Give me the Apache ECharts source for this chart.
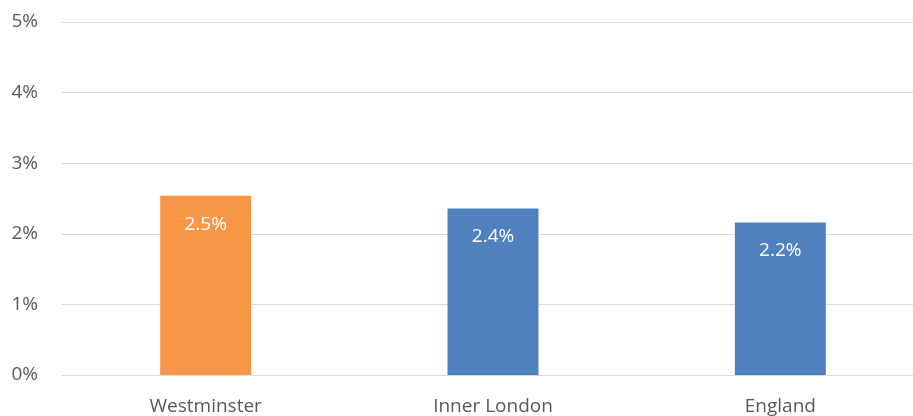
<!DOCTYPE html>
<html>
<head>
<meta charset="utf-8">
<script src="https://cdn.jsdelivr.net/npm/echarts@6/dist/echarts.min.js"></script>
<style>
  html, body { margin: 0; padding: 0; background: #fff; overflow: hidden; }
  /* 图表比窗口略宽，右侧被裁掉，和原图一致 */
  #chart { width: 924px; height: 416px; }
</style>
</head>
<body>
<div id="chart"></div>
<script>
// 数据
const categories = ['Westminster', 'Inner London', 'England'];
const values = [2.54, 2.36, 2.16]; // 百分比
const barColors = ['#F79646', '#4F81BD', '#4F81BD'];
const yTicks = [0, 1, 2, 3, 4, 5];

const chart = echarts.init(document.getElementById('chart'));
const option = {
  animation: false,
  grid: { left: 62, right: 0, top: 22, bottom: 40 },
  xAxis: {
    type: 'category',
    data: categories,
    axisLine: { show: true, lineStyle: { color: '#d9d9d9', width: 1 } },
    axisTick: { show: false },
    axisLabel: { color: '#595959', fontSize: 19, fontFamily: 'Open Sans', margin: 22 }
  },
  yAxis: {
    type: 'value',
    min: yTicks[0],
    max: yTicks[yTicks.length - 1],
    interval: 1,
    axisLine: { show: false },
    axisTick: { show: false },
    axisLabel: {
      color: '#595959', fontSize: 19, fontFamily: 'Open Sans', margin: 24,
      formatter: v => v + '%'
    },
    splitLine: { lineStyle: { color: '#d9d9d9', width: 1 } }
  },
  series: [{
    type: 'bar',
    barWidth: 91,
    data: values.map((v, i) => ({ value: v, itemStyle: { color: barColors[i] } })),
    label: {
      show: true,
      position: 'insideTop',
      distance: 19,
      color: '#fff',
      fontSize: 19,
      fontFamily: 'Open Sans',
      formatter: p => p.value.toFixed(1) + '%'
    }
  }]
};
chart.setOption(option);
</script>
</body>
</html>
